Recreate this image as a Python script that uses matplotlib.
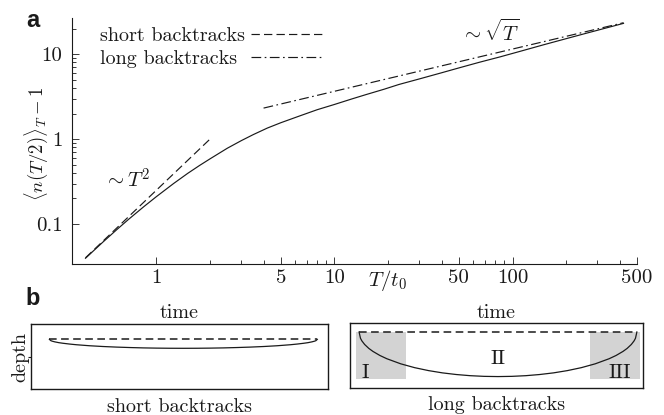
import matplotlib
matplotlib.use('Agg')
import matplotlib.pyplot as plt
from matplotlib.ticker import NullFormatter

# ---------------- data (panel a) ----------------
T_curve = [0.4, 0.5, 0.6, 0.7, 0.85, 1.0, 1.25, 1.5, 1.75, 2.0, 2.5, 3.0, 3.5,
           4.2, 5.0, 6.4, 8.0, 10.0, 12.5, 15.0, 19.0, 23.0, 30.0, 40.0, 50.0,
           65.0, 85.0, 110.0, 150.0, 200.0, 250.0, 330.0, 420.0]
n_curve = [0.0395, 0.061, 0.086, 0.114, 0.160, 0.21, 0.30, 0.395, 0.49, 0.585,
           0.78, 0.96, 1.13, 1.35, 1.56, 1.88, 2.22, 2.56, 2.97, 3.34, 3.87,
           4.40, 5.12, 6.05, 6.90, 8.03, 9.3, 10.8, 12.95, 15.25, 17.3, 20.2, 23.1]
short_T = [0.4, 2.0]
short_n = [0.04, 1.0]
long_T = [4.0, 420.0]
long_n = [2.32, 23.5]

x_major = [1, 5, 10, 50, 100, 500]
x_major_labels = ['1', '5', '10', '50', '100', '500']
x_minor = [2, 3, 4, 6, 7, 8, 9, 20, 30, 40, 60, 70, 80, 90, 200, 300, 400]
y_major = [0.1, 1, 10]
y_major_labels = ['0.1', '1', '10']
y_minor = [0.2, 0.3, 0.4, 0.5, 0.6, 0.7, 0.8, 0.9, 2, 3, 4, 5, 6, 7, 8, 9, 20]

# ---------------- data (panel b) ----------------
time_frac = [0, 0.005, 0.01, 0.02, 0.035, 0.05, 0.075, 0.1, 0.15, 0.2, 0.25,
             0.3, 0.35, 0.4, 0.45, 0.5, 0.55, 0.6, 0.65, 0.7, 0.75, 0.8, 0.85,
             0.9, 0.925, 0.95, 0.965, 0.98, 0.99, 0.995, 1.0]
long_depth = [0, 0.141, 0.199, 0.28, 0.368, 0.436, 0.527, 0.6, 0.714, 0.8,
              0.866, 0.917, 0.954, 0.98, 0.995, 1.0, 0.995, 0.98, 0.954, 0.917,
              0.866, 0.8, 0.714, 0.6, 0.527, 0.436, 0.368, 0.28, 0.199, 0.141, 0]
short_depth = [0, 0.028, 0.04, 0.056, 0.074, 0.087, 0.105, 0.12, 0.143, 0.16,
               0.173, 0.183, 0.191, 0.196, 0.199, 0.2, 0.199, 0.196, 0.191,
               0.183, 0.173, 0.16, 0.143, 0.12, 0.105, 0.087, 0.074, 0.056,
               0.04, 0.028, 0]
surface_t = [0, 1]
surface_depth = [0, 0]
gray_regions = [(-0.01, 0.17), (0.83, 1.01)]
gray_depth = 1.06
region_labels = ['I', 'II', 'III']
region_t = [0.022, 0.5, 0.94]
region_depth = [0.91, 0.60, 0.91]

# ---------------- style ----------------
plt.rcParams.update({
    'font.family': 'serif',
    'font.serif': ['cmr10'],
    'mathtext.fontset': 'cm',
    'axes.formatter.use_mathtext': True,
    'lines.scale_dashes': False,
    'font.size': 14.5,
})
ink = '#1a1a1a'
W, H = 664, 415
fig = plt.figure(figsize=(W / 100, H / 100), dpi=100)

# ---------------- panel a ----------------
ax = fig.add_axes([72 / W, 1 - 264 / H, 565 / W, 245.7 / H])
ax.set_xscale('log')
ax.set_yscale('log')
ax.set_xlim(0.336, 500)
ax.set_ylim(0.0338, 26.5)
ax.plot(T_curve, n_curve, color=ink, lw=0.85)
ax.plot(short_T, short_n, color=ink, lw=0.85, dashes=(6, 3),
        label='short backtracks')
ax.plot(long_T, long_n, color=ink, lw=0.85, dashes=(7, 2.5, 1.2, 2.5),
        label='long backtracks')

for s in ['top', 'right']:
    ax.spines[s].set_visible(False)
for s in ['left', 'bottom']:
    ax.spines[s].set_linewidth(0.8)
    ax.spines[s].set_color(ink)

ax.set_xticks(x_major)
ax.set_xticklabels(x_major_labels)
ax.set_xticks(x_minor, minor=True)
ax.xaxis.set_minor_formatter(NullFormatter())
ax.set_yticks(y_major)
ax.set_yticklabels(y_major_labels)
ax.set_yticks(y_minor, minor=True)
ax.yaxis.set_minor_formatter(NullFormatter())
ax.tick_params(which='both', direction='in', width=0.6, color=ink,
               labelsize=15, labelcolor=ink)
ax.tick_params(which='major', length=5)
ax.tick_params(which='minor', length=3)
ax.tick_params(axis='x', which='major', pad=4)
ax.tick_params(axis='y', which='major', pad=7)

ax.set_ylabel(r'$\langle n(T/2)\rangle_T - 1$', fontsize=13.5, va='center',
              color=ink)
ax.yaxis.set_label_coords(-0.063, 0.49)
ax.set_xlabel(r'$T/t_0$', fontsize=15, va='center', color=ink)
ax.xaxis.set_label_coords(0.559, -0.069)

ax.text(0.0973, 0.342, r'$\sim T^2$', transform=ax.transAxes, fontsize=15,
        ha='center', va='center', color=ink)
ax.text(0.740, 0.944, r'$\sim \sqrt{T}$', transform=ax.transAxes, fontsize=15,
        ha='center', va='center', color=ink)

leg_fs = 14.5
leg_pad = 0.3
leg = ax.legend(loc='upper left', bbox_to_anchor=(0.0496, 0.963),
                markerfirst=False, frameon=False, fontsize=leg_fs,
                handlelength=3.6, handletextpad=leg_pad, labelspacing=0.22,
                borderpad=0, borderaxespad=0)
for t in leg.get_texts():
    t.set_color(ink)
# left-align the legend texts while keeping the sample lines aligned
try:
    fig.canvas.draw()
    rend = fig.canvas.get_renderer()
    widths = [t.get_window_extent(rend).width for t in leg.get_texts()]
    maxw = max(widths)
    col = leg._legend_handle_box.get_children()[0]
    col.align = 'left'
    for row, w in zip(col.get_children(), widths):
        row.sep = leg_pad * leg_fs + (maxw - w) * 72.0 / fig.dpi
except Exception:
    pass

fig.text(26 / W, 1 - 27 / H, 'a', fontsize=17, fontweight='bold',
         family='Liberation Sans', ha='left', va='baseline', color=ink)
fig.text(25 / W, 1 - 305 / H, 'b', fontsize=17, fontweight='bold',
         family='Liberation Sans', ha='left', va='baseline', color=ink)

# ---------------- panel b, short ----------------
ax1 = fig.add_axes([31 / W, 1 - 389.3 / H, 296.7 / W, 65.3 / H])
ax1.set_xlim(-0.0687, 1.0387)
ax1.set_ylim(1.1154, -0.3426)
ax1.plot(surface_t, surface_depth, color=ink, lw=1.1, dashes=(5.5, 3.2))
ax1.plot(time_frac, short_depth, color=ink, lw=0.9)
ax1.set_xticks([])
ax1.set_yticks([0.386])
ax1.set_yticklabels([])
ax1.tick_params(axis='y', direction='out', length=2.5, width=0.8, color=ink)
ax1.set_ylabel('depth', fontsize=14.5, va='center', color=ink)
ax1.yaxis.set_label_coords(-0.037, 0.5)
ax1.text(0.5, 1.165, 'time', transform=ax1.transAxes, ha='center',
         va='center', fontsize=14.5, color=ink)
ax1.text(0.5, -0.268, 'short backtracks', transform=ax1.transAxes,
         ha='center', va='center', fontsize=14.5, color=ink)

# ---------------- panel b, long ----------------
ax2 = fig.add_axes([350 / W, 1 - 388.3 / H, 292.7 / W, 65 / H])
ax2.set_xlim(-0.0327, 1.0210)
ax2.set_ylim(1.263, -0.195)
for lo, hi in gray_regions:
    ax2.fill_between([lo, hi], 0, gray_depth, color='#d3d3d3', lw=0)
ax2.plot(surface_t, surface_depth, color=ink, lw=1.1, dashes=(5.5, 3.2))
ax2.plot(time_frac, long_depth, color=ink, lw=0.9)
for lab, tt, dd in zip(region_labels, region_t, region_depth):
    ax2.text(tt, dd, lab, ha='center', va='center', fontsize=15, color=ink)
ax2.set_xticks([])
ax2.set_yticks([])
ax2.text(0.5, 1.165, 'time', transform=ax2.transAxes, ha='center',
         va='center', fontsize=14.5, color=ink)
ax2.text(0.5, -0.257, 'long backtracks', transform=ax2.transAxes,
         ha='center', va='center', fontsize=14.5, color=ink)

for a in (ax1, ax2):
    for s in a.spines.values():
        s.set_linewidth(1.0)
        s.set_color(ink)

fig.savefig('out.png', dpi=100)
